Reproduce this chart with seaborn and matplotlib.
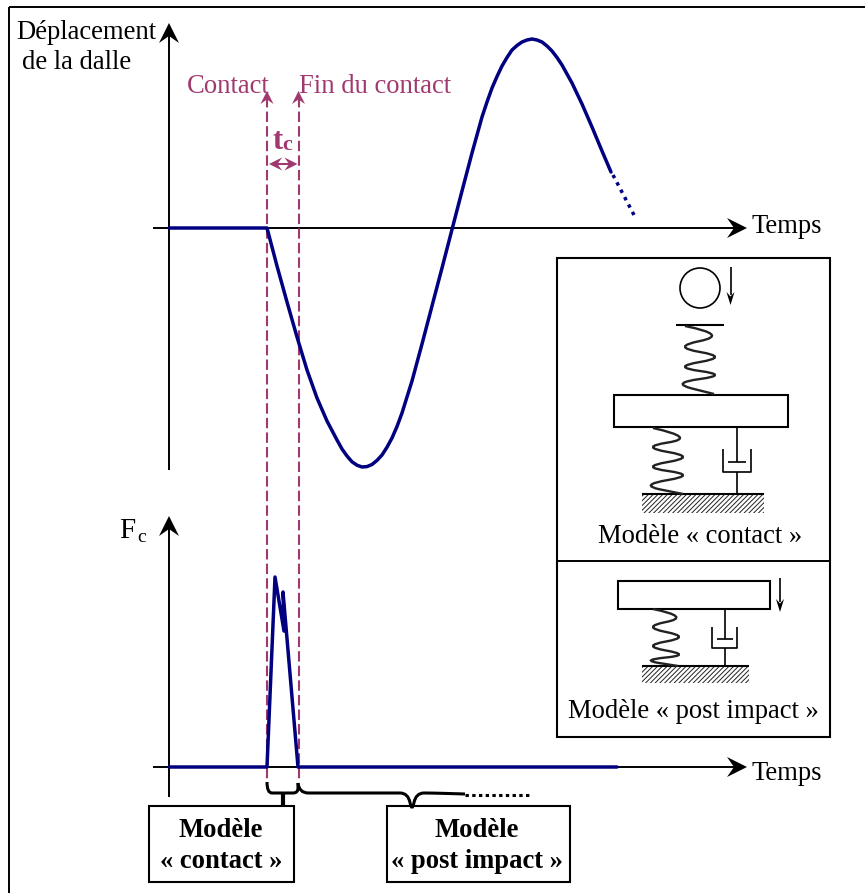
import matplotlib
matplotlib.use('Agg')
import pandas as pd
import seaborn as sns
from matplotlib import pyplot as plt
from matplotlib.patches import Circle, PathPatch, Polygon, Rectangle
from matplotlib.path import Path

# Values, in image pixels
disp_t = [169, 267, 277, 287, 297, 307, 317, 327, 337, 342, 347, 352, 357, 362, 367, 372, 377, 382, 387, 392,
          397, 402, 412, 422, 432, 442, 452, 462, 472, 482, 487, 492, 497, 502, 507, 512, 517, 522, 527, 532,
          537, 542, 547, 552, 557, 562, 572, 582, 592, 602, 611]
disp_y = [228, 228, 266, 302, 337, 370, 398, 421, 440, 449, 456, 461.8, 465.2, 467, 466.6, 464.5, 460.4, 455, 447.2, 438,
          426.5, 413, 381, 344, 306, 268, 229.5, 191, 153, 117, 102, 88, 76.5, 66, 57.5, 50, 45.5, 42, 40, 39,
          40, 42, 46, 51, 57.5, 65, 83, 104, 127, 151, 172]
disp_end_t = [613, 634]
disp_end_y = [175, 215]
force_t = [169, 267, 275, 284, 283, 298, 617]
force_y = [767, 767, 577, 631, 592, 767, 767]

spring_contact_top = [(685, 326), (730, 335), (670, 347), (730, 357), (670, 367), (730, 375), (670, 383), (714, 394)]
spring_contact_low = [(653, 428), (698, 438), (638, 447), (698, 457), (638, 467), (698, 475), (638, 485), (683, 494)]
spring_post = [(653, 609), (692, 617), (640, 627), (692, 637), (640, 646), (692, 655), (640, 660), (678, 666)]

brace_left = [(267, 782), (267, 793), (277, 793), (281, 793), (283, 793), (283, 795)]
brace_mid = [(283, 795), (283, 793), (286, 793), (288, 793), (298, 793), (298, 783)]
brace_right = [(298, 783), (299, 793), (318, 793), (392, 793), (408, 793), (412, 812),
               (416, 793), (432, 793), (465, 794)]

PINK = '#a0396f'
BLUE = '#000080'
SERIF = 'Liberation Serif'
FS = 19.2

sns.set_style('white')
plt.rcParams['font.family'] = [SERIF, 'DejaVu Sans']
plt.rcParams['hatch.linewidth'] = 0.7

fig = plt.figure(figsize=(8.65, 8.93), dpi=100)
ax = fig.add_axes([0, 0, 1, 1])


def seg(x, y, color='black', lw=1.4, ls='-', z=2):
    ax.plot(x, y, color=color, lw=lw, ls=ls, zorder=z, solid_capstyle='butt')


def head(x, y, dx, dy, length=20, width=20, color='black', z=3):
    # notched arrow head, tip at x, y and pointing along dx, dy
    px, py = -dy, dx
    pts = [(x, y),
           (x - dx * length + px * width / 2, y - dy * length + py * width / 2),
           (x - dx * length * 0.65, y - dy * length * 0.65),
           (x - dx * length - px * width / 2, y - dy * length - py * width / 2)]
    ax.add_patch(Polygon(pts, closed=True, fc=color, ec='none', zorder=z))


def curve(points, lw=1.7, color='#222222'):
    # smooth line through the midpoints of the control points
    verts = [points[0]]
    codes = [Path.MOVETO]
    for a, b in zip(points[1:-1], points[2:]):
        mid = ((a[0] + b[0]) / 2, (a[1] + b[1]) / 2)
        verts += [a, mid]
        codes += [Path.CURVE3, Path.CURVE3]
    verts += [points[-1]]
    codes += [Path.LINETO]
    ax.add_patch(PathPatch(Path(verts, codes), fc='none', ec=color, lw=lw, zorder=4))


def box(x0, y0, x1, y1, lw=1.5, z=3):
    ax.add_patch(Rectangle((x0, y0), x1 - x0, y1 - y0, fc='white', ec='black', lw=lw, zorder=z))


def damper(x, y_top, y_cup, y_piston, y_bottom, y_end, half, half_p):
    seg([x, x], [y_top, y_piston], lw=1.2)
    seg([x - half_p, x + half_p], [y_piston, y_piston], lw=1.2)
    seg([x - half, x - half, x + half, x + half], [y_cup, y_bottom, y_bottom, y_cup], lw=1.2)
    seg([x, x], [y_bottom, y_end], lw=1.2)


def ground(x0, x1, y, y1):
    ax.add_patch(Rectangle((x0, y), x1 - x0, y1 - y, fc='white', ec='#222222', lw=0, hatch='///////', zorder=2))
    seg([x0, x1], [y, y], lw=1.5)


def label(x, y, s, color='black', size=FS, weight='normal', ha='center'):
    ax.text(x, y + 2.5, s, color=color, fontsize=size, fontweight=weight, ha=ha, va='center',
            family=[SERIF, 'DejaVu Sans'], zorder=6)


# outer frame, only left and top are drawn
seg([9, 9], [7, 893])
seg([9, 865], [7, 7])

# axes of both graphs
seg([169, 169], [470, 35])
head(169, 23, 0, -1)
seg([153, 735], [228, 228])
head(747, 228, 1, 0)
seg([169, 169], [797, 528])
head(169, 516, 0, -1)
seg([153, 735], [767, 767])
head(747, 767, 1, 0)

# contact start and end
seg([267, 267], [97, 782], color=PINK, lw=1.5, ls=(0, (5, 2)))
seg([298.5, 298.5], [97, 782], color=PINK, lw=1.5, ls=(0, (5, 2)))
head(267, 91, 0, -1, length=13, width=13, color=PINK)
head(298.5, 91, 0, -1, length=13, width=13, color=PINK)
seg([272, 294], [164, 164], color=PINK, lw=1.5)
head(269, 164, -1, 0, length=13, width=13, color=PINK)
head(297.5, 164, 1, 0, length=13, width=13, color=PINK)

# curves
disp = pd.DataFrame({'t': disp_t, 'y': disp_y})
force = pd.DataFrame({'t': force_t, 'y': force_y})
sns.lineplot(data=disp, x='t', y='y', sort=False, estimator=None, color=BLUE, lw=2.5, ax=ax, zorder=5)
sns.lineplot(x=disp_end_t, y=disp_end_y, sort=False, estimator=None, color=BLUE, lw=2.5,
             ls=(0, (1, 1.4)), ax=ax, zorder=5)
sns.lineplot(data=force, x='t', y='y', sort=False, estimator=None, color=BLUE, lw=2.5, ax=ax, zorder=5)

# axis and event labels
label(86, 30, 'Déplacement')
label(77, 60, 'de la dalle')
label(787, 224, 'Temps')
label(787, 771, 'Temps')
label(127, 528, 'F', size=21)
label(142, 535, 'c', size=14)
label(228, 84, 'Contact', color=PINK)
label(375, 84, 'Fin du contact', color=PINK)
label(277.5, 139, 't', color=PINK, size=22, weight='bold')
label(287, 143, 'c', color=PINK, size=16, weight='bold')

# inset with both models
box(556.5, 258, 830, 737, z=1)
seg([556.5, 830], [561, 561])
ax.add_patch(Circle((700, 288), 20, fc='white', ec='black', lw=1.2, zorder=4))
seg([730.5, 730.5], [267, 295], lw=1.2)
head(730.5, 305, 0, 1, length=13, width=8)
seg([676, 724], [325, 325], lw=1.5)
curve(spring_contact_top)
box(613.5, 395, 788, 427)
curve(spring_contact_low)
damper(736.5, 427, 449, 462, 472, 493, 14, 9)
ground(642, 764, 494, 513)
label(700, 534, 'Modèle « contact »')

box(617.5, 581, 770, 608.5)
seg([780, 780], [578, 602], lw=1.2)
head(780, 612, 0, 1, length=13, width=8)
curve(spring_post)
damper(724.5, 608.5, 627, 639, 648, 666, 12.5, 8)
ground(642, 749, 666, 683)
label(693, 709, 'Modèle « post impact »')

# braces and model boxes
for b in (brace_left, brace_mid, brace_right):
    curve(b, lw=2.2, color='black')
seg([283, 283], [793, 806], lw=3)
seg([465, 532], [795, 795], lw=2.2, ls=(0, (1.1, 1.1)))

box(149, 806, 294, 882)
box(387, 806, 570, 882)
label(221, 828, 'Modèle', weight='bold')
label(221, 859, '« contact »', weight='bold')
label(477, 828, 'Modèle', weight='bold')
label(477, 859, '« post impact »', weight='bold')

ax.set_xlim(0, 865)
ax.set_ylim(893, 0)
ax.set_axis_off()
fig.savefig('out.png', dpi=100)
